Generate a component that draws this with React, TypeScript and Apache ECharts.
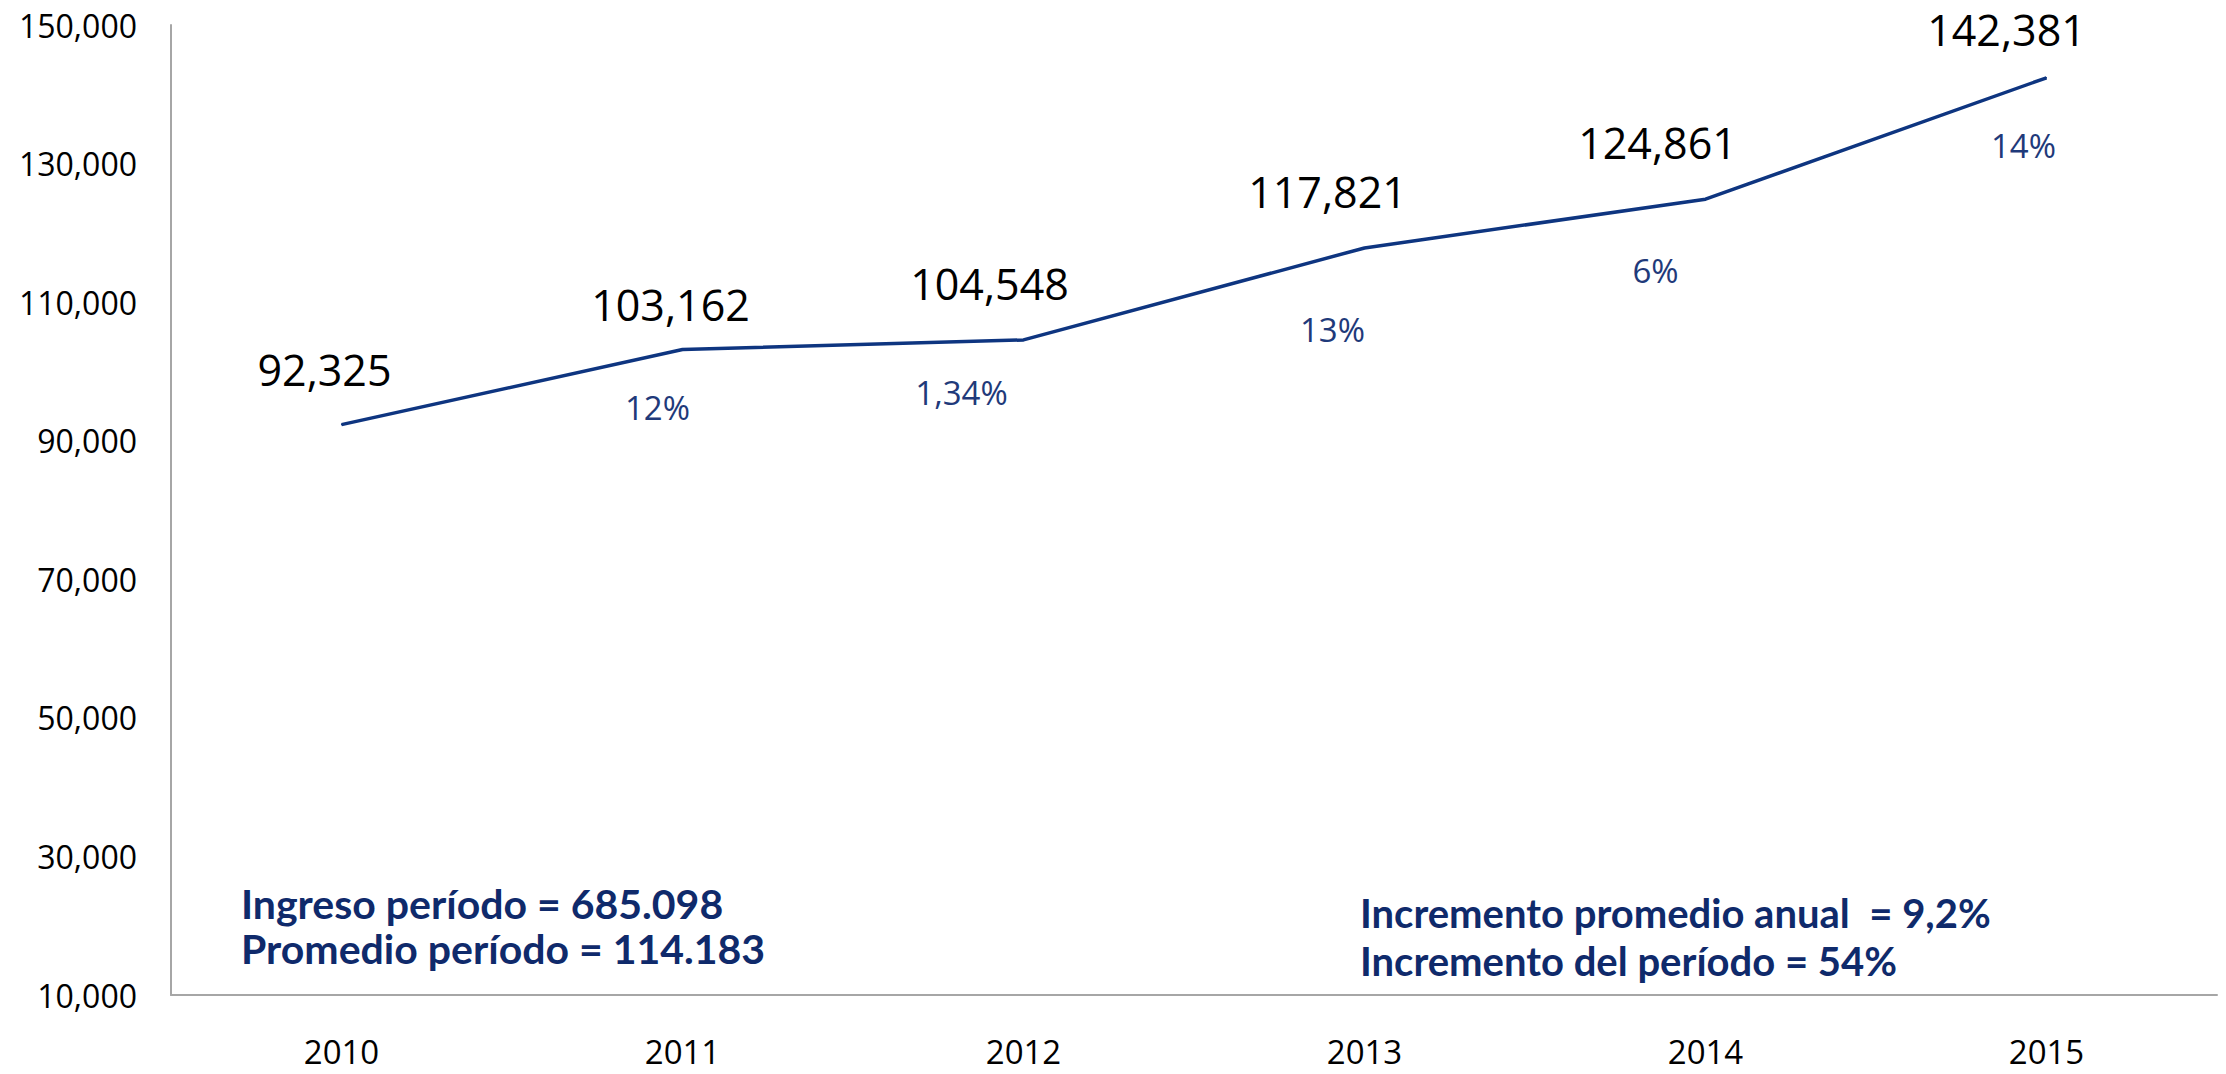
import React, { useEffect, useRef } from "react";
import * as echarts from "echarts";

// ---- data ----
const years = ["2010", "2011", "2012", "2013", "2014", "2015"];
const ingresos = [92325, 103162, 104548, 117821, 124861, 142381];
const crecimiento = ["", "12%", "1,34%", "13%", "6%", "14%"];
const yMin = 10000;
const yMax = 150000;
const yStep = 20000;
const notaIzquierda = ["Ingreso período = 685.098", "Promedio período = 114.183"];
const notaDerecha = ["Incremento promedio anual  = 9,2%", "Incremento del período = 54%"];

// ---- layout (label offsets relative to each point, px) ----
const valueLabelOffsets = [
  [-17, -55],
  [-12, -45],
  [-34, -56],
  [-37, -56],
  [-48, -57],
  [-40, -48],
];
const growthLabelOffsets = [
  [0, 0],
  [-25, 58],
  [-62, 53],
  [-32, 82],
  [-50, 71],
  [-23, 68],
];

const NAVY = "#0F2A6B";
const LINE = "#0E3580";
const PCT = "#1F3A7A";
const fmt = (v: number) => v.toLocaleString("en-US");

export default function App() {
  const ref = useRef<HTMLDivElement>(null);
  useEffect(() => {
    if (!ref.current) return;
    const chart = echarts.init(ref.current, null, { renderer: "svg" });
    const option = {
      animation: false,
      backgroundColor: "#ffffff",
      grid: { left: 171, right: 9, top: 25, bottom: 79, containLabel: false },
      xAxis: {
        type: "category",
        data: years,
        boundaryGap: true,
        axisLine: { show: true, lineStyle: { color: "#A6A6A6", width: 2 } },
        axisTick: { show: false },
        axisLabel: {
          color: "#000",
          fontFamily: "Open Sans",
          fontSize: 33,
          margin: 40,
        },
        splitLine: { show: false },
      },
      yAxis: {
        type: "value",
        min: yMin,
        max: yMax,
        interval: yStep,
        axisLine: { show: true, lineStyle: { color: "#A6A6A6", width: 2 } },
        axisTick: { show: false },
        splitLine: { show: false },
        axisLabel: {
          color: "#000",
          fontFamily: "Open Sans",
          fontSize: 32,
          margin: 34,
          formatter: (v: number) => fmt(v),
        },
      },
      series: [
        {
          type: "line",
          z: 3,
          data: ingresos.map((v, i) => ({
            value: v,
            label: {
              show: true,
              position: "inside",
              offset: valueLabelOffsets[i],
              formatter: fmt(v),
              color: "#000",
              fontFamily: "Open Sans",
              fontSize: 43,
            },
          })),
          symbol: "circle",
          symbolSize: 1,
          showSymbol: true,
          itemStyle: { color: LINE },
          lineStyle: { color: LINE, width: 3.5 },
        },
        {
          type: "line",
          z: 2,
          data: ingresos.map((v, i) => ({
            value: v,
            label: {
              show: crecimiento[i] !== "",
              position: "inside",
              offset: growthLabelOffsets[i],
              formatter: crecimiento[i],
              color: PCT,
              fontFamily: "Open Sans",
              fontSize: 33,
            },
          })),
          symbol: "circle",
          symbolSize: 1,
          showSymbol: true,
          itemStyle: { color: LINE },
          lineStyle: { opacity: 0, width: 0 },
        },
      ],
      graphic: [
        ...notaIzquierda.map((t, i) => ({
          type: "text",
          x: 241,
          y: 903 + i * 45,
          style: {
            text: t,
            fill: NAVY,
            font: "bold 41px Lato",
            verticalAlign: "middle",
            align: "left",
          },
        })),
        ...notaDerecha.map((t, i) => ({
          type: "text",
          x: 1360,
          y: 913 + i * 48,
          style: {
            text: t,
            fill: NAVY,
            font: "bold 40px Lato",
            verticalAlign: "middle",
            align: "left",
          },
        })),
      ],
    };
    chart.setOption(option as any);
    return () => chart.dispose();
  }, []);
  return (
    <div
      ref={ref}
      style={{ position: "fixed", left: 0, top: 0, width: 2226, height: 1074, background: "#fff" }}
    />
  );
}
